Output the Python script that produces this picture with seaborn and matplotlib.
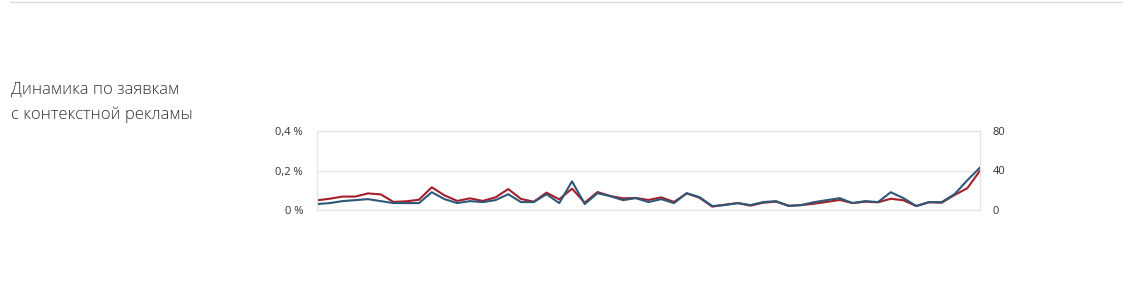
import matplotlib
matplotlib.use("Agg")
import matplotlib.pyplot as plt
import seaborn as sns
import pandas as pd
import numpy as np
from matplotlib.ticker import FixedLocator

sns.set_theme(style="white")
plt.rcParams['font.family'] = ['Open Sans', 'DejaVu Sans']

# Data
weeks = list(range(53))
conversion_pct = [0.049, 0.057, 0.068, 0.068, 0.084, 0.079, 0.041, 0.044, 0.052, 0.115,
                  0.074, 0.046, 0.059, 0.046, 0.064, 0.106, 0.056, 0.042, 0.088, 0.054,
                  0.108, 0.037, 0.091, 0.071, 0.059, 0.061, 0.051, 0.064, 0.041, 0.084,
                  0.062, 0.017, 0.027, 0.035, 0.022, 0.037, 0.042, 0.022, 0.025, 0.032,
                  0.041, 0.051, 0.035, 0.042, 0.039, 0.057, 0.049, 0.020, 0.039, 0.037,
                  0.076, 0.110, 0.199]
requests = [6, 7, 9, 10, 11, 9, 7, 7, 7, 18,
            11, 7, 9, 8, 10, 16, 8, 8, 16, 7,
            29, 6, 17, 14, 10, 12, 8, 11, 7, 17,
            13, 4, 5, 7, 5, 8, 9, 4, 5, 8,
            10, 12, 7, 9, 8, 18, 12, 4, 8, 8,
            16, 30, 43]
left_ticks = [0.0, 0.2, 0.4]
left_labels = ["0 %", "0,2 %", "0,4 %"]
right_ticks = [0, 40, 80]
right_labels = ["0", "40", "80"]
title_lines = ["Динамика по заявкам", "с контекстной рекламы"]

df = pd.DataFrame({"week": weeks, "conv": conversion_pct, "req": requests})

fig = plt.figure(figsize=(11.23, 3.01), dpi=100)
fig.patch.set_facecolor("white")

# top separator line
fig.add_artist(plt.Line2D([10 / 1123, 1.0], [1 - 2 / 301, 1 - 2 / 301],
                          color="#dcdcdc", lw=1.0))

# title text
fig.text(11 / 1123, 1 - 90 / 301, title_lines[0], fontsize=12, color="#333333",
         va="center", ha="left", fontweight="light")
fig.text(11 / 1123, 1 - 115 / 301, title_lines[1], fontsize=12, color="#333333",
         va="center", ha="left", fontweight="light")

ax = fig.add_axes([317 / 1123, 91 / 301, 663 / 1123, 79 / 301])
ax2 = ax.twinx()

red = "#a51f2b"
blue = "#2d5877"

sns.lineplot(data=df, x="week", y="conv", ax=ax, color=red, lw=1.5)
sns.lineplot(data=df, x="week", y="req", ax=ax2, color=blue, lw=1.5)

ax.set_xlim(0, 52)
ax.set_ylim(0, 0.4)
ax2.set_ylim(0, 80)
ax.set_xlabel("")
ax.set_ylabel("")
ax2.set_ylabel("")
ax.set_xticks([])

ax.yaxis.set_major_locator(FixedLocator(left_ticks))
ax.set_yticklabels(left_labels)
ax2.yaxis.set_major_locator(FixedLocator(right_ticks))
ax2.set_yticklabels(right_labels)

ax.tick_params(axis="y", length=0, labelsize=8, labelcolor="#333333", pad=10)
ax2.tick_params(axis="y", length=0, labelsize=8, labelcolor="#333333", pad=9)
for a in (ax, ax2):
    for s in a.spines.values():
        s.set_color("#e4e4e4")
        s.set_linewidth(0.8)
ax.spines["bottom"].set_color("#d8d8d8")

ax.grid(axis="y", color="#e4e4e4", lw=0.8)
ax.set_axisbelow(True)
ax2.grid(False)

fig.savefig("out.png", dpi=100, facecolor="white")
